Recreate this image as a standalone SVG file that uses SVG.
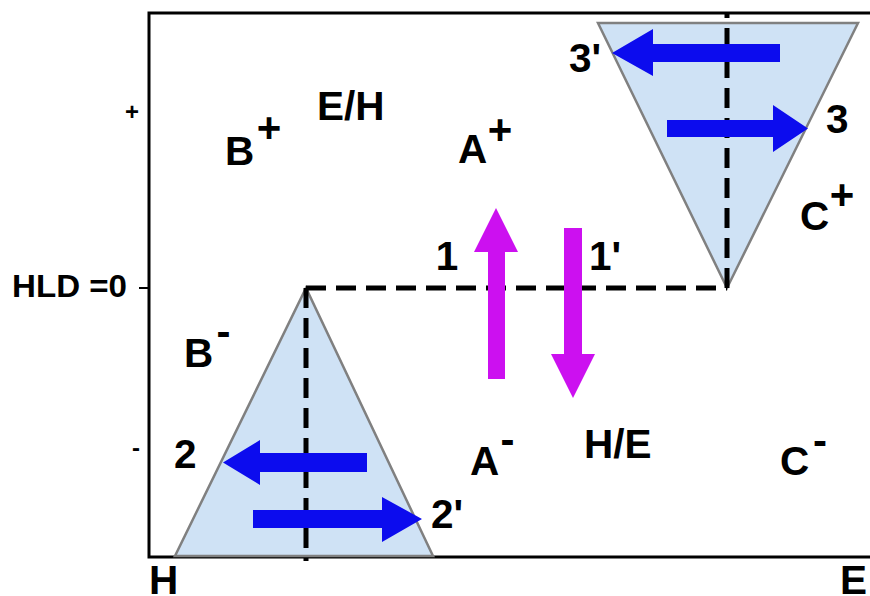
<svg xmlns="http://www.w3.org/2000/svg" width="870" height="596" viewBox="0 0 870 596">
<style>
text{font-family:"Liberation Sans",Arial,sans-serif;font-weight:bold;fill:#000}
.lbl{font-size:40.5px}
.sup{font-size:42px;text-anchor:middle}
.ax{font-size:24px;text-anchor:middle}
.tri{fill:#cfe2f5;stroke:#808080;stroke-width:2.5}
.dash{fill:none;stroke:#000;stroke-width:5;stroke-dasharray:20 10}
.blue{fill:#0c0cee}
.mag{fill:#cc10f0}
</style>
<rect width="870" height="596" fill="#fff"/>
<g id="frame">
<path d="M870,13 H149 V557 H870" fill="none" stroke="#000" stroke-width="3"/>
<line x1="139" y1="288" x2="149" y2="288" stroke="#000" stroke-width="2"/>
<text class="ax" x="132" y="120">+</text>
<text class="ax" x="136" y="456">-</text>
<text x="12" y="297" style="font-size:31px" textLength="115" lengthAdjust="spacingAndGlyphs">HLD =0</text>
<text class="lbl" x="149" y="594">H</text>
<text class="lbl" x="840" y="594">E</text>
</g>
<g id="triangle-top">
<polygon class="tri" points="598,23 858,23 727,288"/>
</g>
<g id="triangle-bottom">
<polygon class="tri" points="175,556 433,556 306,288"/>
</g>
<g id="connectors">
<path class="dash" d="M306,288 H727"/>
<path class="dash" d="M727,288 V13"/>
<path class="dash" d="M306,288 V561"/>
</g>
<g id="arrows">
<polygon class="blue" points="780,44 653,44 653,29 612,53 653,76 653,62 780,62"/>
<polygon class="blue" points="667,120 773,120 773,105 808,128.5 773,152 773,137 667,137"/>
<polygon class="blue" points="367,453 260,453 260,440 223,462.5 260,485 260,472 367,472"/>
<polygon class="blue" points="253,510 382,510 382,497 422,519 382,542 382,528 253,528"/>
<polygon class="mag" points="488,379 488,252 474,252 496,208 518,252 505,252 505,379"/>
<polygon class="mag" points="564,228 564,354 551,354 573,398 595,354 582,354 582,228"/>
</g>
<g id="labels">
<text class="lbl" x="317" y="120">E/H</text>
<text class="lbl" x="225" y="165">B</text><text class="sup" x="269" y="141.5">+</text>
<text class="lbl" x="458" y="163">A</text><text class="sup" x="500" y="143.5">+</text>
<text class="lbl" x="800" y="230">C</text><text class="sup" x="842" y="208.5">+</text>
<text class="lbl" x="184" y="367">B</text><text class="sup" x="223.5" y="345.5">-</text>
<text class="lbl" x="470" y="475">A</text><text class="sup" x="507.5" y="453.5">-</text>
<text class="lbl" x="780" y="475">C</text><text class="sup" x="820" y="454.5">-</text>
<text class="lbl" x="584" y="458">H/E</text>
<text class="lbl" x="447" y="270" text-anchor="middle">1</text>
<text class="lbl" x="589" y="270">1'</text>
<text class="lbl" x="569" y="72">3'</text>
<text class="lbl" x="826" y="133">3</text>
<text class="lbl" x="174" y="468">2</text>
<text class="lbl" x="431" y="528">2'</text>
</g>
</svg>
